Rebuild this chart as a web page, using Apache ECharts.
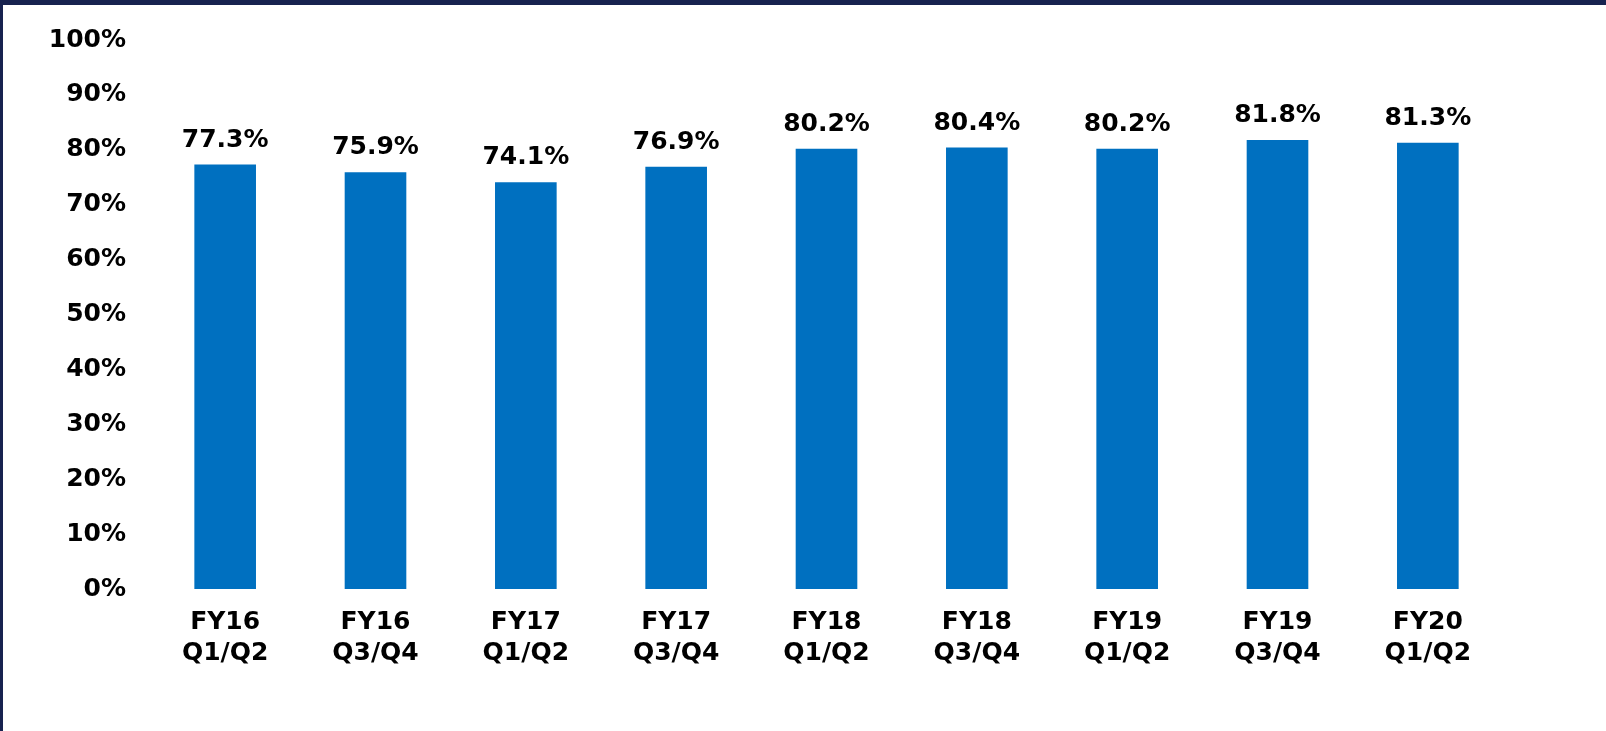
<!DOCTYPE html>
<html>
<head>
<meta charset="utf-8">
<script src="https://cdn.jsdelivr.net/npm/echarts@6/dist/echarts.min.js"></script>
<style>
  html, body { margin: 0; padding: 0; background: #fff; }
  #frame { position: absolute; left: 0; top: 0; width: 1606px; height: 731px; box-sizing: border-box; border-top: 5px solid #17224f; border-left: 3px solid #17224f; }
  #chart { position: absolute; left: 0; top: 0; width: 1606px; height: 731px; }
</style>
</head>
<body>
<div id="frame"></div>
<div id="chart"></div>
<script>
const categories = ['FY16\nQ1/Q2', 'FY16\nQ3/Q4', 'FY17\nQ1/Q2', 'FY17\nQ3/Q4', 'FY18\nQ1/Q2', 'FY18\nQ3/Q4', 'FY19\nQ1/Q2', 'FY19\nQ3/Q4', 'FY20\nQ1/Q2'];
const values = [77.3, 75.9, 74.1, 76.9, 80.2, 80.4, 80.2, 81.8, 81.3];

const chart = echarts.init(document.getElementById('chart'), null, { renderer: 'canvas' });
const font = 'DejaVu Sans';
chart.setOption({
  animation: false,
  grid: { left: 150, right: 103, top: 40, bottom: 142, containLabel: false },
  xAxis: {
    type: 'category',
    data: categories,
    axisLine: { show: false },
    axisTick: { show: false },
    axisLabel: { color: '#000', fontFamily: font, fontWeight: 'bold', fontSize: 25, lineHeight: 31, margin: 18 }
  },
  yAxis: {
    type: 'value',
    min: 0, max: 100, interval: 10,
    splitLine: { show: false },
    axisLine: { show: false },
    axisTick: { show: false },
    axisLabel: { color: '#000', fontFamily: font, fontWeight: 'bold', fontSize: 25, margin: 24, formatter: '{value}%' }
  },
  series: [{
    type: 'bar',
    data: values,
    barWidth: '41%',
    itemStyle: { color: '#0070c0' },
    label: {
      show: true, position: 'top', distance: 12,
      color: '#000', fontFamily: font, fontWeight: 'bold', fontSize: 25,
      formatter: p => p.value.toFixed(1) + '%'
    }
  }]
});
</script>
</body>
</html>
